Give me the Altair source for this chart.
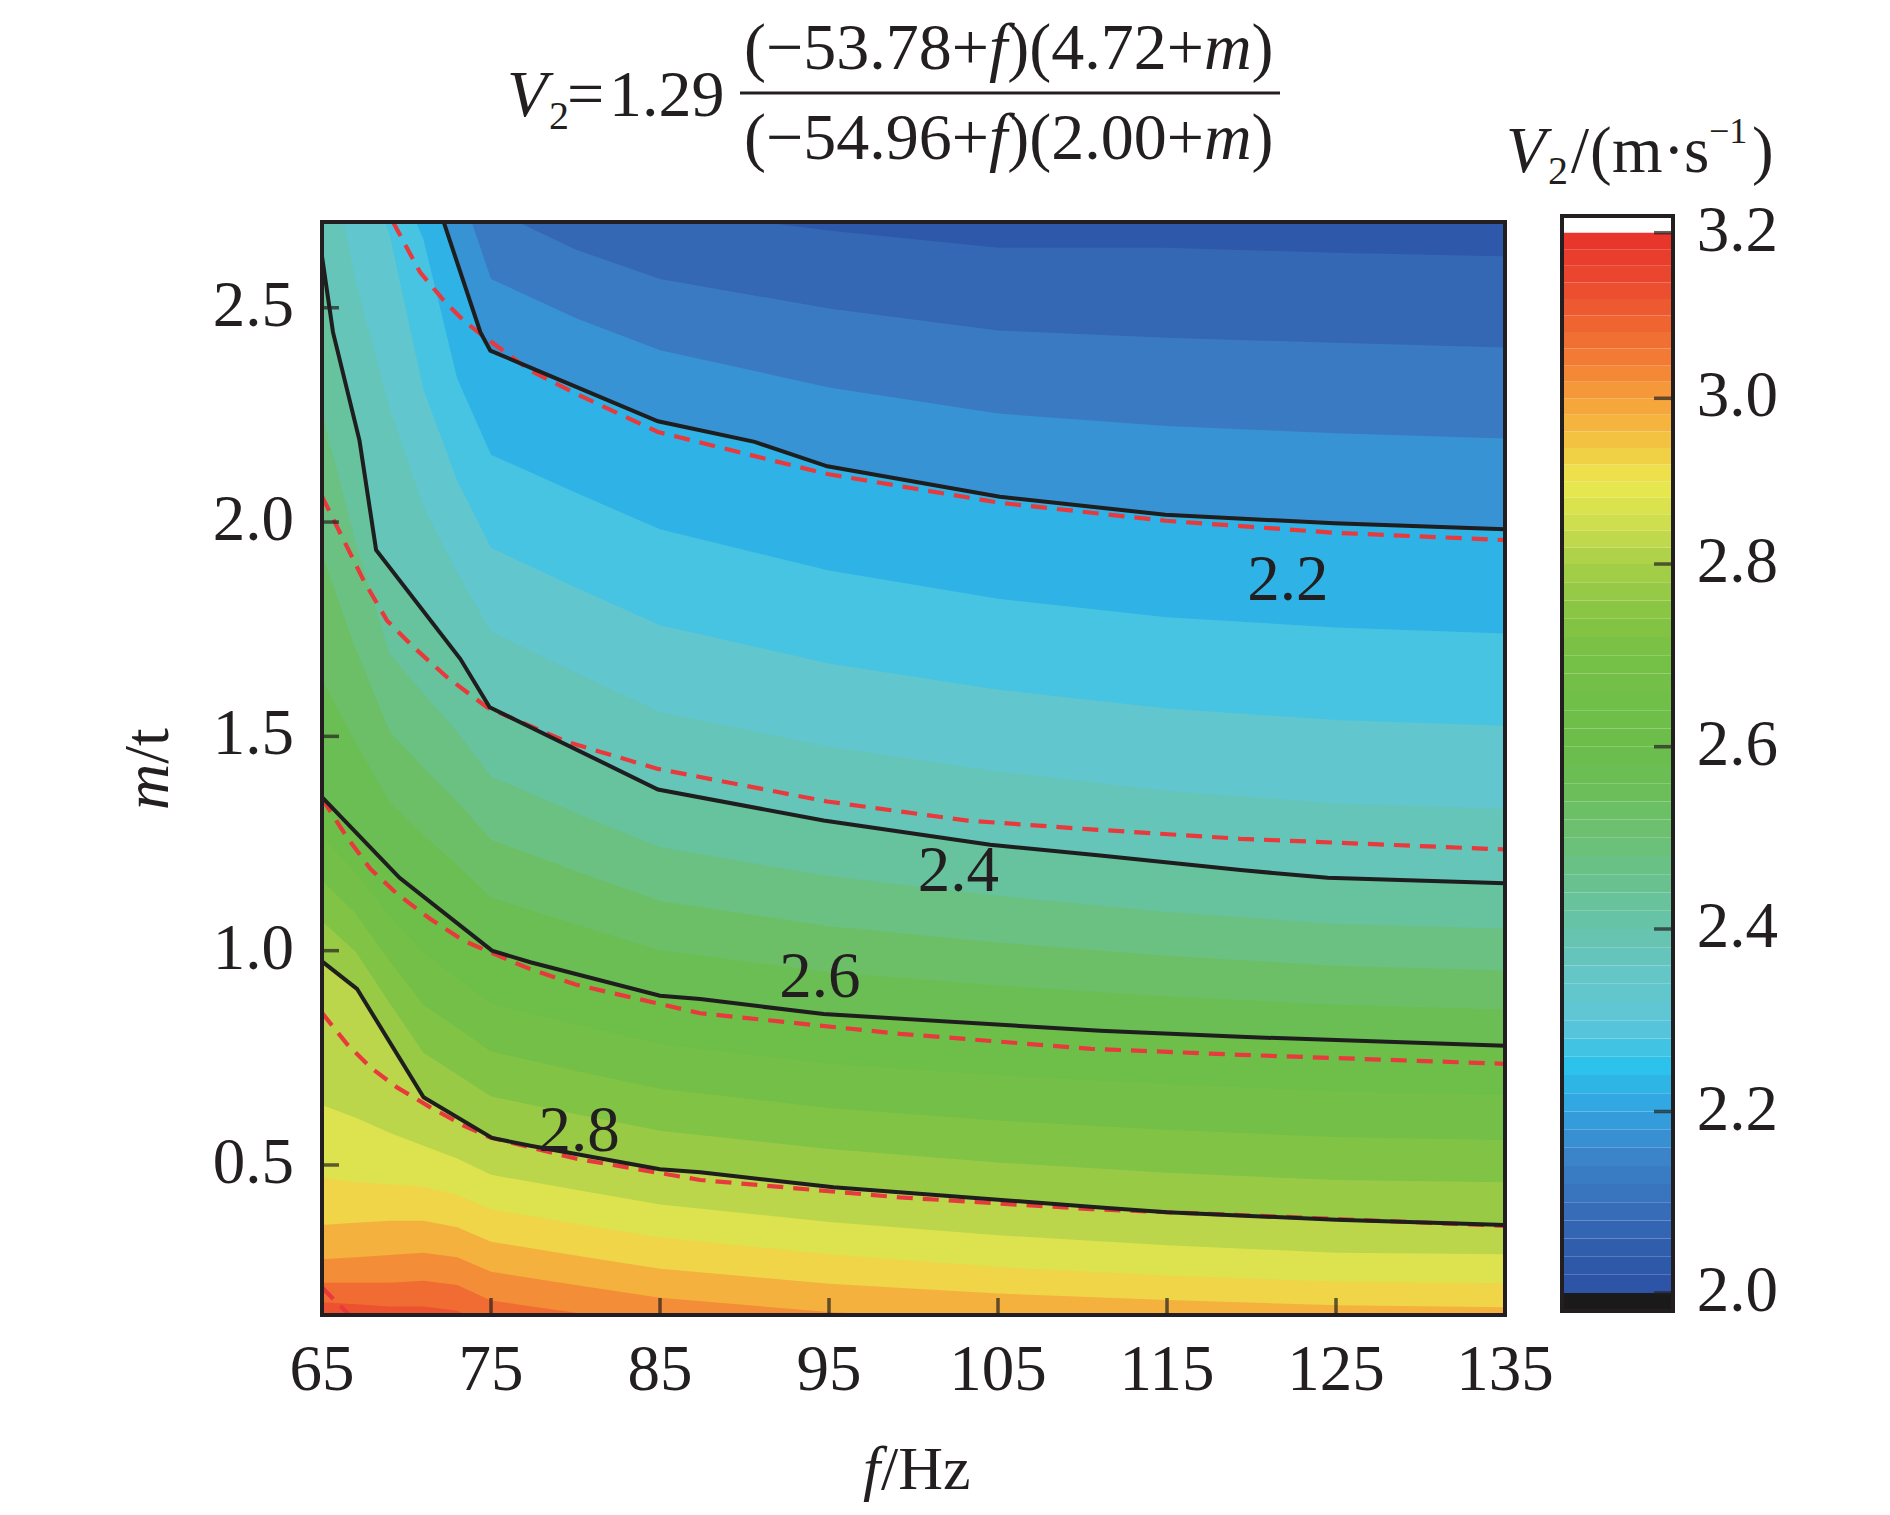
import altair as alt
import pandas as pd

W, H = 1183, 1093
FONT = "Liberation Serif"
INK = "#231f20"

# ---------------- data ----------------
f_ticks = [65, 75, 85, 95, 105, 115, 125, 135]
m_ticks = [0.5, 1.0, 1.5, 2.0, 2.5]
cbar_ticks = [2.0, 2.2, 2.4, 2.6, 2.8, 3.0, 3.2]
cbar_levels = [2.00, 2.02, 2.04, 2.06, 2.08, 2.10, 2.12, 2.14, 2.16, 2.18,
               2.20, 2.22, 2.24, 2.26, 2.28, 2.30, 2.32, 2.34, 2.36, 2.38,
               2.40, 2.42, 2.44, 2.46, 2.48, 2.50, 2.52, 2.54, 2.56, 2.58,
               2.60, 2.62, 2.64, 2.66, 2.68, 2.70, 2.72, 2.74, 2.76, 2.78,
               2.80, 2.82, 2.84, 2.86, 2.88, 2.90, 2.92, 2.94, 2.96, 2.98,
               3.00, 3.02, 3.04, 3.06, 3.08, 3.10, 3.12, 3.14, 3.16, 3.18]

color_stops = [2.00, 2.05, 2.10, 2.15, 2.20, 2.25, 2.30, 2.35, 2.40, 2.45, 2.50, 2.55,
               2.60, 2.70, 2.75, 2.80, 2.85, 2.90, 2.95, 3.00, 3.05, 3.10, 3.15, 3.20]
color_hex = ["#2c52a4", "#305ead", "#3870bb", "#3c84ca", "#32a2de", "#2cc2ec", "#60c6d8",
             "#64c6c6", "#66c3ac", "#69c190", "#6cc074", "#6bbe5a", "#6bbd4b", "#76c045",
             "#8ac544", "#a8cf48", "#cede4e", "#ece84e", "#f3c240", "#f5a03a", "#f27a34",
             "#ee5e30", "#ea452e", "#e8322c"]

# black (measured) contour lines
c22_f = [65, 69, 72.2, 74.37, 74.96, 77.3, 84.88, 90.6, 94.9, 105.1, 114.9, 124.9, 135]
c22_m = [3.5, 3.1, 2.70, 2.443, 2.40, 2.361, 2.235, 2.187, 2.13, 2.059, 2.017, 1.997, 1.983]
c24_f = [65, 65.65, 67.22, 68.2, 73.18, 74.92, 84.88, 94.68, 104.54, 111.05, 119.35, 124.5, 135]
c24_m = [2.62, 2.443, 2.19, 1.935, 1.681, 1.568, 1.376, 1.3035, 1.247, 1.222, 1.188, 1.170, 1.157]
c26_f = [65, 69.59, 75.06, 77.33, 85, 87.38, 94.68, 111.05, 119.35, 135]
c26_m = [1.358, 1.170, 1.0, 0.973, 0.895, 0.887, 0.852, 0.813, 0.799, 0.778]
c28_f = [65, 67.07, 71.01, 75.06, 77.33, 85, 87.38, 95.27, 111.05, 115, 125, 135]
c28_m = [0.975, 0.911, 0.658, 0.563, 0.545, 0.49, 0.483, 0.448, 0.401, 0.39, 0.372, 0.36]

# red dashed (fitted) contour lines
r22_f = [69.2, 70.8, 72.2, 73.38, 74.37, 77.3, 80, 84.88, 94.9, 105.1, 114.9, 124.9, 135]
r22_m = [2.70, 2.583, 2.517, 2.47, 2.439, 2.354, 2.30, 2.21, 2.112, 2.045, 2.003, 1.975, 1.958]
r24_f = [65, 67.46, 68.85, 70.42, 72.4, 74.76, 79.5, 84.88, 94.9, 103.2, 110.5, 119.35, 135]
r24_m = [2.06, 1.864, 1.77, 1.708, 1.638, 1.568, 1.487, 1.424, 1.348, 1.3035, 1.283, 1.261, 1.236]
r26_f = [65, 66.48, 67.86, 69.44, 71.41, 73.38, 74.96, 77.33, 80, 87.38, 99.2, 110.5, 119.35, 135]
r26_m = [1.355, 1.2645, 1.191, 1.1325, 1.074, 1.0235, 0.996, 0.957, 0.921, 0.854, 0.806, 0.771, 0.757, 0.736]
r28_f = [65, 66.48, 67.86, 69.44, 71.41, 73.38, 74.96, 77.33, 80, 87.38, 99.2, 110.5, 120, 135]
r28_m = [0.855, 0.782, 0.728, 0.681, 0.6345, 0.592, 0.564, 0.541, 0.515, 0.465, 0.4244, 0.397, 0.382, 0.358]
r32_f = [65, 66.67]
r32_m = [0.214, 0.148]

# filled-contour boundaries (m position of each level at each f node)
f_nodes = [65, 67, 69, 71, 73, 75, 80, 85, 95, 105, 115, 125, 135]
fill_levels = [2.05, 2.10, 2.15, 2.25, 2.30, 2.35, 2.45, 2.50, 2.55, 2.65, 2.70, 2.75,
               2.85, 2.90, 2.95, 3.00, 3.05, 3.10]
fill_m = [
    [4.3, 4.2, 4.1, 3.9, 3.6, 2.9, 2.80, 2.73, 2.68, 2.64, 2.64, 2.628, 2.62],
    [3.9, 3.8, 3.7, 3.5, 3.0, 2.73, 2.636, 2.567, 2.498, 2.447, 2.43, 2.418, 2.407],
    [3.7, 3.6, 3.4, 3.15, 2.8, 2.567, 2.476, 2.401, 2.314, 2.253, 2.224, 2.207, 2.195],
    [3.4, 3.1, 2.85, 2.66, 2.335, 2.157, 2.069, 1.983, 1.887, 1.821, 1.778, 1.754, 1.740],
    [3.2, 2.9, 2.67, 2.309, 2.097, 1.940, 1.848, 1.759, 1.670, 1.609, 1.565, 1.538, 1.525],
    [2.95, 2.56, 2.266, 2.037, 1.882, 1.745, 1.649, 1.557, 1.476, 1.418, 1.373, 1.344, 1.331],
    [2.257, 1.950, 1.693, 1.600, 1.511, 1.407, 1.322, 1.241, 1.174, 1.128, 1.090, 1.063, 1.051],
    [1.924, 1.703, 1.512, 1.427, 1.348, 1.259, 1.186, 1.116, 1.057, 1.019, 0.988, 0.965, 0.954],
    [1.633, 1.484, 1.347, 1.270, 1.200, 1.124, 1.061, 1.001, 0.950, 0.919, 0.893, 0.874, 0.863],
    [1.266, 1.183, 1.082, 0.995, 0.937, 0.877, 0.829, 0.782, 0.737, 0.710, 0.689, 0.672, 0.664],
    [1.164, 1.086, 0.976, 0.874, 0.820, 0.765, 0.720, 0.678, 0.633, 0.604, 0.582, 0.565, 0.558],
    [1.069, 0.997, 0.878, 0.762, 0.711, 0.660, 0.619, 0.580, 0.537, 0.506, 0.482, 0.465, 0.460],
    [0.64, 0.61, 0.575, 0.545, 0.515, 0.477, 0.442, 0.408, 0.367, 0.336, 0.313, 0.295, 0.292],
    [0.47, 0.46, 0.455, 0.45, 0.43, 0.397, 0.363, 0.331, 0.292, 0.262, 0.242, 0.228, 0.224],
    [0.36, 0.365, 0.37, 0.37, 0.355, 0.321, 0.289, 0.258, 0.223, 0.200, 0.185, 0.173, 0.168],
    [0.28, 0.285, 0.29, 0.295, 0.285, 0.251, 0.220, 0.190, 0.157, 0.138, 0.125, 0.115, 0.11],
    [0.225, 0.225, 0.225, 0.23, 0.22, 0.184, 0.155, 0.126, 0.090, 0.060, 0.040, 0.030, 0.020],
    [0.18, 0.175, 0.17, 0.17, 0.16, 0.12, 0.09, 0.06, 0.03, 0.0, 0.0, 0.0, 0.0],
]
base_band = [2.025]

label_text = ["2.2", "2.4", "2.6", "2.8"]
label_f = [122.15, 102.65, 94.46, 80.22]
label_m = [1.819, 1.1385, 0.891, 0.533]

# ---------------- tables ----------------
black = {"2.20": (c22_f, c22_m), "2.40": (c24_f, c24_m), "2.60": (c26_f, c26_m), "2.80": (c28_f, c28_m)}
red = {"r22": (r22_f, r22_m), "r24": (r24_f, r24_m), "r26": (r26_f, r26_m),
       "r28": (r28_f, r28_m), "r32": (r32_f, r32_m)}

levels = {}
for lv, ms in zip(fill_levels, fill_m):
    levels[f"{lv:.2f}"] = (f_nodes, ms)
for k, v in black.items():
    levels[k] = v
level_keys = sorted(levels.keys(), key=float)

rows = []
for k in level_keys:
    fs, ms = levels[k]
    for fv, mv in zip(fs, ms):
        rows.append({"key": k, "f": fv, "m": mv, "band": float(k) + 0.025})
fill_df = pd.DataFrame(rows)

black_df = pd.DataFrame([{"key": k, "f": fv, "m": mv}
                         for k, (fs, ms) in black.items() for fv, mv in zip(fs, ms)])
red_df = pd.DataFrame([{"key": k, "f": fv, "m": mv}
                       for k, (fs, ms) in red.items() for fv, mv in zip(fs, ms)])
lab_df = pd.DataFrame({"t": label_text, "f": label_f, "m": label_m})
one = pd.DataFrame({"_": [0]})

# ---------------- scales ----------------
xs = alt.Scale(domain=[65, 135], nice=False, zero=False)
ys = alt.Scale(domain=[0.15, 2.7], nice=False, zero=False)
cs = alt.Scale(domain=color_stops, range=color_hex, interpolate="rgb")
cbs = alt.Scale(domain=cbar_ticks, range=[1071, 889.5, 707, 524.7, 342, 176.3, 10.7],
                nice=False, zero=False)

X = alt.X("f:Q", scale=xs, axis=None)
Y = alt.Y("m:Q", scale=ys, axis=None, stack=None)
C = alt.Color("band:Q", scale=cs, legend=None)

layers = []
layers.append(alt.Chart(pd.DataFrame({"band": base_band})).mark_rect().encode(
    x=alt.value(0), x2=alt.value(W), y=alt.value(0), y2=alt.value(H), color=C))
for k in level_keys:
    layers.append(alt.Chart(fill_df).transform_filter(alt.datum.key == k)
                  .mark_area(clip=True, interpolate="linear")
                  .encode(x=X, y=Y, y2=alt.value(H + 30), color=C))

layers.append(alt.Chart(red_df).mark_line(clip=True, color="#e8393c", strokeWidth=4.2,
                                          strokeDash=[16, 10])
              .encode(x=X, y=Y, detail="key:N"))
layers.append(alt.Chart(black_df).mark_line(clip=True, color="#1e1e1e", strokeWidth=4)
              .encode(x=X, y=Y, detail="key:N"))
layers.append(alt.Chart(lab_df).mark_text(font=FONT, fontSize=65, color=INK, align="center",
                                          baseline="alphabetic")
              .encode(x=X, y=Y, text="t:N"))

# frame and ticks
layers.append(alt.Chart(one).mark_rect(fill="transparent", stroke=INK, strokeWidth=4).encode(
    x=alt.value(0), x2=alt.value(W), y=alt.value(0), y2=alt.value(H)))
layers.append(alt.Chart(pd.DataFrame({"f": f_ticks})).mark_tick(
    orient="vertical", size=17, thickness=3.5, color=INK).encode(x=X, y=alt.value(H - 8.5)))
layers.append(alt.Chart(pd.DataFrame({"m": m_ticks})).mark_tick(
    orient="horizontal", size=17, thickness=3.5, color=INK).encode(y=Y, x=alt.value(8.5)))
layers.append(alt.Chart(pd.DataFrame({"f": f_ticks})).mark_text(
    font=FONT, fontSize=65, color=INK, align="center", baseline="top").encode(
    x=X, y=alt.value(H + 24), text=alt.Text("f:Q", format="d")))
layers.append(alt.Chart(pd.DataFrame({"m": m_ticks})).mark_text(
    font=FONT, fontSize=65, color=INK, align="right", baseline="middle", dy=-2).encode(
    y=Y, x=alt.value(-28), text=alt.Text("m:Q", format=".1f")))


def txt(s, x, y, size, italic=False, angle=0):
    kw = dict(text=s, font=FONT, fontSize=size, color=INK, align="left", baseline="alphabetic")
    if italic:
        kw["fontStyle"] = "italic"
    if angle:
        kw["angle"] = angle
    return alt.Chart(one).mark_text(**kw).encode(x=alt.value(x), y=alt.value(y))


# axis titles
layers += [txt("f", 541, 1267, 62, italic=True), txt("/Hz", 559, 1267, 62)]
layers += [txt("m", -154, 588, 64, italic=True, angle=270), txt("/t", -154, 541.8, 64, angle=270)]

# formula title
layers += [txt("V", 185, -106, 66, italic=True), txt("2", 227, -93, 40), txt("=", 245, -106, 66),
           txt("1.29", 287, -106, 66)]
for (a, b, base) in [("(−53.78+", ")(4.72+", -153), ("(−54.96+", ")(2.00+", -63)]:
    layers += [txt(a, 422, base, 66), txt("f", 666.9, base, 66, italic=True),
               txt(b, 685.2, base, 66), txt("m", 881.9, base, 66, italic=True),
               txt(")", 929.6, base, 66)]
layers.append(alt.Chart(one).mark_rule(color=INK, strokeWidth=3).encode(
    x=alt.value(418), x2=alt.value(958), y=alt.value(-129)))

# colour-bar title
layers += [txt("V", 1184, -50, 65, italic=True), txt("2", 1226, -38, 40),
           txt("/", 1249, -50, 65), txt("(", 1268, -50, 65), txt("m", 1290, -50, 65),
           txt("·", 1341, -50, 65), txt("s", 1362, -50, 65), txt("−1", 1387, -79, 36),
           txt(")", 1430, -50, 65)]

main = alt.layer(*layers)

# ---------------- colour bar ----------------
CY = alt.Y("v:Q", scale=cbs, axis=None)
cb = alt.layer(
    alt.Chart(pd.DataFrame({"v": cbar_levels}))
    .transform_calculate(v2="datum.v + 0.02", band="datum.v + 0.01")
    .mark_rect().encode(x=alt.value(1240), x2=alt.value(1351), y=CY, y2="v2:Q", color=C),
    alt.Chart(one).mark_rect(color="#1a1a1a").encode(
        x=alt.value(1240), x2=alt.value(1351), y=alt.value(1071), y2=alt.value(1088)),
    alt.Chart(one).mark_rect(fill="transparent", stroke=INK, strokeWidth=4).encode(
        x=alt.value(1240), x2=alt.value(1351), y=alt.value(-6), y2=alt.value(1089)),
    alt.Chart(pd.DataFrame({"v": cbar_ticks})).mark_tick(
        orient="horizontal", size=17, thickness=3.5, color=INK).encode(y=CY, x=alt.value(1340.5)),
    alt.Chart(pd.DataFrame({"v": cbar_ticks})).mark_text(
        font=FONT, fontSize=65, color=INK, align="left", baseline="middle", dy=-2).encode(
        y=CY, x=alt.value(1374.7), text=alt.Text("v:Q", format=".1f")),
)

chart = (
    alt.layer(main, cb)
    .resolve_scale(y="independent")
    .properties(width=W, height=H,
                autosize=alt.AutoSizeParams(type="none"),
                padding={"left": 314, "top": 214, "right": 360, "bottom": 190})
    .configure_view(stroke="transparent")
)

chart.save("out.html", embed_options={"renderer": "svg", "actions": False})
